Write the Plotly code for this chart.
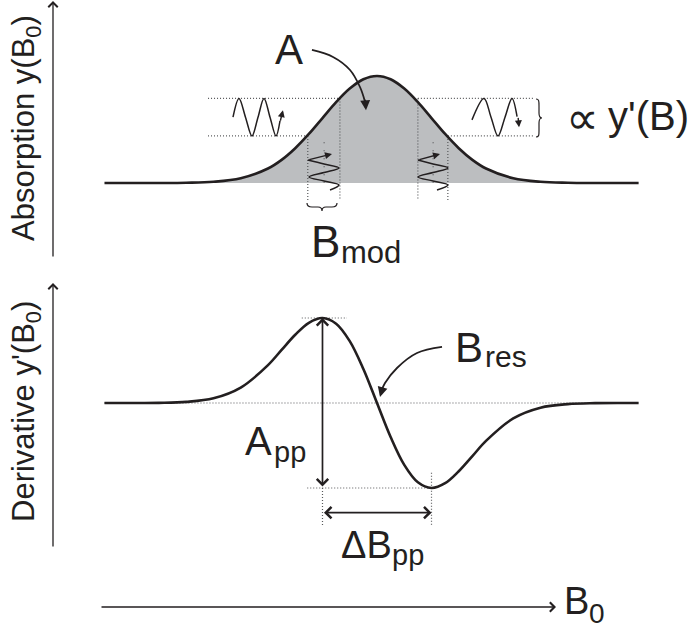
import plotly.graph_objects as go

W, H = 696, 632

# Magnetic field offset (B - B_res) in units of the Gaussian width
field = [-5.0, -4.5, -4.0, -3.5, -3.0, -2.5, -2.0, -1.75, -1.5, -1.25, -1.0, -0.75, -0.5, -0.25,
         0.0, 0.25, 0.5, 0.75, 1.0, 1.25, 1.5, 1.75, 2.0, 2.5, 3.0, 3.5, 4.0, 4.5, 4.8]
# Normalised absorption line y(B0)
absorption = [0.0, 0.0, 0.0, 0.002, 0.011, 0.044, 0.135, 0.216, 0.325, 0.458, 0.607, 0.755, 0.882, 0.969,
              1.0, 0.969, 0.882, 0.755, 0.607, 0.458, 0.325, 0.216, 0.135, 0.044, 0.011, 0.002, 0.0, 0.0, 0.0]
# Normalised first-derivative line y'(B0)
derivative = [0.0, 0.0, 0.002, 0.013, 0.055, 0.181, 0.446, 0.625, 0.803, 0.944, 1.0, 0.933, 0.728, 0.40,
              0.0, -0.40, -0.728, -0.933, -1.0, -0.944, -0.803, -0.625, -0.446, -0.181, -0.055, -0.013,
              -0.002, 0.0, 0.0]

# Field-modulation sweep windows and the absorption levels at their edges
mod_left = (-1.27, -0.68)
mod_right = (0.75, 1.30)
mod_centres = (-0.97, 1.03)
sig_lo, sig_hi = 0.44, 0.79
guide_start, guide_end, guide_floor = -3.10, 2.86, -0.16

# Peak-to-peak landmarks of the derivative
pp_field = (-1.0, 1.0)
pp_value = (1.0, -1.0)

INK = "#231f20"
DOT = "#58595b"
FILL = "#bcbec0"
FONT = "Liberation Sans, Arial, sans-serif"


def px(x):
    return x / W


def py(y):
    return 1 - y / H


def path(cmds):
    out = []
    for op, pts in cmds:
        out.append(op + " " + " ".join(f"{px(x):.5f},{py(y):.5f}" for x, y in pts))
    return " ".join(out)


fig = go.Figure()

# shaded area under the absorption line
fig.add_trace(go.Scatter(x=field, y=absorption, mode="lines",
                         line=dict(width=0, shape="spline", color=FILL),
                         fill="tozeroy", fillcolor=FILL, hoverinfo="skip"))

# dotted guides of the absorption panel
gx = [guide_start, mod_left[1], None, mod_right[0], guide_end, None,
      guide_start, mod_left[0], None, mod_right[1], guide_end, None,
      mod_left[0], mod_left[0], None, mod_left[1], mod_left[1], None,
      mod_right[0], mod_right[0], None, mod_right[1], mod_right[1]]
gy = [sig_hi, sig_hi, None, sig_hi, sig_hi, None,
      sig_lo, sig_lo, None, sig_lo, sig_lo, None,
      sig_lo, guide_floor, None, sig_hi, guide_floor, None,
      sig_hi, guide_floor, None, sig_lo, guide_floor]
fig.add_trace(go.Scatter(x=gx, y=gy, mode="lines",
                         line=dict(color=DOT, width=1.2, dash="1px,2px"), hoverinfo="skip"))
fig.add_trace(go.Scatter(x=[mod_centres[0], mod_centres[0], None, mod_centres[1], mod_centres[1]],
                         y=[0.38, 0.0, None, 0.38, 0.0], mode="lines",
                         line=dict(color=DOT, width=1.2, dash="1px,7px"), hoverinfo="skip"))

# dotted guides of the derivative panel
fig.add_trace(go.Scatter(
    x=[field[0], field[-1], None, -1.38, -0.55, None, -1.28, 1.03, None,
       pp_field[0], pp_field[0], None, pp_field[1], pp_field[1]],
    y=[0, 0, None, pp_value[0], pp_value[0], None, pp_value[1], pp_value[1], None,
       -1.0, -1.44, None, -0.82, -1.44],
    yaxis="y2", mode="lines", line=dict(color=DOT, width=1.2, dash="1px,2px"), hoverinfo="skip"))

# the two line shapes
fig.add_trace(go.Scatter(x=field, y=absorption, mode="lines",
                         line=dict(color=INK, width=2.6, shape="spline"), hoverinfo="skip"))
fig.add_trace(go.Scatter(x=field, y=derivative, yaxis="y2", mode="lines",
                         line=dict(color=INK, width=2.6, shape="spline"), hoverinfo="skip"))

# detected signal oscillating between the two absorption levels
mid = (sig_lo + sig_hi) / 2
wig_left_x = [-2.642, -2.532, -2.413, -2.294, -2.183, -2.073, -1.963, -1.853, -1.78]
wig_left_y = [mid, sig_hi, mid, sig_lo, mid, sig_hi, mid, sig_lo, 0.58]
wig_right_x = [1.743, 1.963, 2.092, 2.220, 2.349, 2.477, 2.57]
wig_right_y = [0.59, sig_hi, mid, sig_lo, mid, sig_hi, 0.62]
# field modulation drawn along a vertical time axis
mod_y = [0.178, 0.140, 0.098, 0.056, 0.019, -0.019, -0.065]
modw_left_x = [-0.972, -0.697, -0.972, -1.248, -0.972, -0.697, -0.862]
modw_right_x = [1.028, 1.303, 1.028, 0.752, 1.028, 1.303, 1.101]
for xs, ys in [(wig_left_x, wig_left_y), (wig_right_x, wig_right_y),
               ([mod_left[0]] + modw_left_x, [0.215] + mod_y),
               ([mod_right[0]] + modw_right_x, [0.215] + mod_y)]:
    fig.add_trace(go.Scatter(x=xs, y=ys, mode="lines",
                             line=dict(color=INK, width=1.5, shape="spline"), hoverinfo="skip"))

# curved pointer to the area A
fig.add_trace(go.Scatter(x=[-1.193, -0.807, -0.495, -0.312, -0.22],
                         y=[1.243, 1.178, 1.056, 0.897, 0.76], mode="lines",
                         line=dict(color=INK, width=1.8, shape="spline"), hoverinfo="skip"))
# curved pointer to the resonance field
fig.add_trace(go.Scatter(x=[1.193, 0.734, 0.367, 0.147, 0.08],
                         y=[0.659, 0.588, 0.412, 0.235, 0.14], yaxis="y2", mode="lines",
                         line=dict(color=INK, width=1.8, shape="spline"), hoverinfo="skip"))

ann = []


def head(x, y, ax, ay, yref="y", width=1.4, size=1.0, style=2):
    ann.append(dict(x=x, y=y, xref="x", yref=yref, ax=ax, ay=ay, text="", showarrow=True,
                    arrowhead=style, arrowsize=size, arrowwidth=width, arrowcolor=INK, standoff=0))


head(-1.725, 0.68, -3, 12)                 # left signal wiggle
head(2.606, 0.52, -1, -11)                 # right signal wiggle
head(-0.202, 0.68, -1, -12, width=1.8, size=1.1)   # pointer to A
head(0.055, 0.071, 3, -11, yref="y2", width=1.8, size=1.1)  # pointer to B_res
# modulation arrows
for x0, x1 in [(mod_left[0], -0.826), (mod_right[0], 1.156)]:
    ann.append(dict(x=x1, y=0.271, ax=x0, ay=0.215, xref="x", yref="y", axref="x", ayref="y",
                    text="", showarrow=True, arrowhead=2, arrowsize=1.0, arrowwidth=1.4,
                    arrowcolor=INK, standoff=0))

# peak-to-peak double arrows
ann.append(dict(x=pp_field[0], y=pp_value[0], ax=pp_field[0], ay=pp_value[1],
                xref="x", yref="y2", axref="x", ayref="y2", text="", showarrow=True,
                arrowhead=4, startarrowhead=4, arrowside="end+start", arrowsize=1.3,
                startarrowsize=1.3, arrowwidth=1.7, arrowcolor=INK, standoff=0, startstandoff=0))
ann.append(dict(x=pp_field[1], y=-1.29, ax=pp_field[0], ay=-1.29,
                xref="x", yref="y2", axref="x", ayref="y2", text="", showarrow=True,
                arrowhead=4, startarrowhead=4, arrowside="end+start", arrowsize=1.3,
                startarrowsize=1.3, arrowwidth=1.7, arrowcolor=INK, standoff=0, startstandoff=0))

# frame arrows: two signal axes and the field axis
for tip, tail in [((53, 1), (0, 257)), ((53, 283), (0, 265)), ((556, 607), (-456, 0))]:
    ann.append(dict(x=px(tip[0]), y=py(tip[1]), xref="paper", yref="paper", ax=tail[0], ay=tail[1],
                    text="", showarrow=True, arrowhead=4, arrowsize=1.4, arrowwidth=1.3,
                    arrowcolor=INK, standoff=0))

# labels
labels = [
    ("A", 289, 50, 42, "center"),
    ("B", 325.5, 241, 44, "center"), ("mod", 339, 252.3, 31, "left"),
    ("\u221d", 582, 118, 46, "center"), ("y'(B)", 606, 116, 40, "left"),
    ("B", 469, 347, 42, "center"), ("res", 483, 356.6, 30, "left"),
    ("A", 258, 441, 40, "center"), ("pp", 272, 452, 29, "left"),
    ("\u0394B", 366, 545, 38, "center"), ("pp", 390, 555, 29, "left"),
    ("B", 576.5, 601, 38, "center"), ("0", 587, 613, 28, "left"),
]
for text, x, y, size, anchor in labels:
    ann.append(dict(x=px(x), y=py(y), xref="paper", yref="paper", text=text, showarrow=False,
                    xanchor=anchor, yanchor="middle", font=dict(family=FONT, size=size, color=INK)))

for text, y in [("Absorption y(B<sub>0</sub>)", 128), ("Derivative y'(B<sub>0</sub>)", 412)]:
    ann.append(dict(x=px(26), y=py(y), xref="paper", yref="paper", text=text, showarrow=False,
                    textangle=-90, xanchor="center", yanchor="middle",
                    font=dict(family=FONT, size=31, color=INK)))

# curly braces
shapes = [
    dict(type="path", xref="paper", yref="paper", line=dict(color=INK, width=1.2),
         path=path([("M", [(536, 99)]), ("C", [(539, 99), (539, 101), (539, 106)]),
                    ("L", [(539, 113)]), ("C", [(539, 116), (540, 118), (542, 118)]),
                    ("C", [(540, 118), (539, 120), (539, 123)]), ("L", [(539, 131)]),
                    ("C", [(539, 135), (539, 137), (536, 137)])])),
    dict(type="path", xref="paper", yref="paper", line=dict(color=INK, width=1.2),
         path=path([("M", [(307, 203)]), ("C", [(307, 206), (309, 207), (312, 207)]),
                    ("L", [(318, 207)]), ("C", [(320, 207), (322, 208), (322, 211)]),
                    ("C", [(322, 208), (324, 207), (326, 207)]), ("L", [(332, 207)]),
                    ("C", [(335, 207), (337, 206), (337, 203)])])),
]

fig.update_layout(
    width=W, height=H, margin=dict(l=0, r=0, t=0, b=0),
    paper_bgcolor="white", plot_bgcolor="white", showlegend=False,
    xaxis=dict(range=[-6.917, 5.853], visible=False, fixedrange=True),
    yaxis=dict(range=[-4.196, 1.710], visible=False, fixedrange=True),
    yaxis2=dict(range=[-2.694, 4.741], visible=False, overlaying="y", fixedrange=True),
    annotations=ann, shapes=shapes,
)

fig.write_html("out.html")
